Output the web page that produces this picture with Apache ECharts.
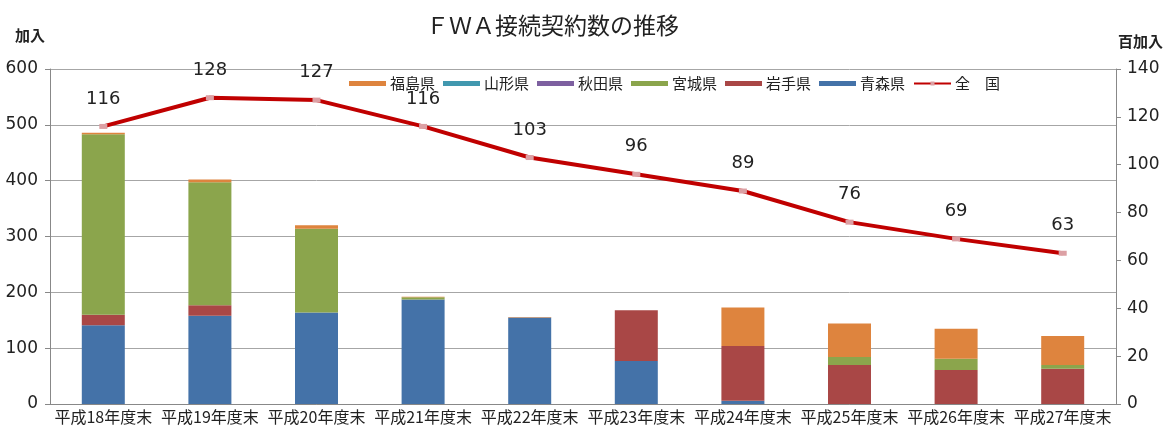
<!DOCTYPE html>
<html>
<head>
<meta charset="utf-8">
<script src="https://cdn.jsdelivr.net/npm/echarts@6/dist/echarts.min.js"></script>
<style>
  html, body { margin: 0; padding: 0; background: #fff; }
  #chart { width: 1168px; height: 432px; }
</style>
</head>
<body>
<div id="chart"></div>
<script>
// Data
const categories = [
  "平成18年度末", "平成19年度末", "平成20年度末", "平成21年度末", "平成22年度末",
  "平成23年度末", "平成24年度末", "平成25年度末", "平成26年度末", "平成27年度末",
];
const aomori = [141, 158, 164, 187, 155, 77, 6, 0, 0, 0];
const iwate = [19, 19, 0, 0, 0, 91, 98, 70, 61, 63];
const miyagi = [323, 220, 150, 4, 0, 0, 0, 14, 20, 7];
const akita = [0, 0, 0, 0, 0, 0, 0, 0, 0, 0];
const yamagata = [0, 0, 0, 0, 0, 0, 0, 0, 0, 0];
const fukushima = [3, 5, 6, 1, 1, 0, 69, 60, 54, 52];
const zenkoku = [116, 128, 127, 116, 103, 96, 89, 76, 69, 63];

const jpFont = "'Noto Sans CJK JP', sans-serif";
const numFont = "'DejaVu Sans', sans-serif";

const chart = echarts.init(document.getElementById("chart"));

const barSeries = [
  { name: "青森県", data: aomori, color: "#4472a8" },
  { name: "岩手県", data: iwate, color: "#a94746" },
  { name: "宮城県", data: miyagi, color: "#8ba54c" },
  { name: "秋田県", data: akita, color: "#7d60a0" },
  { name: "山形県", data: yamagata, color: "#4198af" },
  { name: "福島県", data: fukushima, color: "#de843e" },
].map((s) => ({
  name: s.name,
  type: "bar",
  stack: "pref",
  data: s.data,
  barWidth: 43,
  yAxisIndex: 0,
  itemStyle: { color: s.color },
}));

const option = {
  animation: false,
  title: {
    text: "ＦＷＡ接続契約数の推移",
    left: 421,
    top: 9,
    textStyle: { fontFamily: jpFont, fontSize: 23, fontWeight: "normal", color: "#222" },
  },
  legend: {
    left: 344,
    top: 71,
    itemWidth: 37,
    itemHeight: 5,
    itemGap: 8,
    textStyle: { fontFamily: jpFont, fontSize: 15, color: "#222", padding: [0, 0, 0, -1] },
    data: [
      { name: "福島県", icon: "rect" },
      { name: "山形県", icon: "rect" },
      { name: "秋田県", icon: "rect" },
      { name: "宮城県", icon: "rect" },
      { name: "岩手県", icon: "rect" },
      { name: "青森県", icon: "rect" },
      { name: "全　国" },
    ],
  },
  grid: { left: 50, right: 52, top: 69, bottom: 28 },
  xAxis: {
    type: "category",
    data: categories,
    axisLine: { lineStyle: { color: "#888" } },
    axisTick: { length: 5, lineStyle: { color: "#888" } },
    axisLabel: { fontFamily: jpFont, fontSize: 16, color: "#222", margin: 5, interval: 0 },
  },
  yAxis: [
    {
      type: "value",
      min: 0,
      max: 600,
      interval: 100,
      name: "加入",
      nameLocation: "end",
      nameGap: 26,
      nameTextStyle: {
        fontFamily: jpFont, fontSize: 15, fontWeight: "bold", color: "#222",
        align: "right", padding: [0, 5, 0, 0],
      },
      axisLine: { show: true, lineStyle: { color: "#888" } },
      axisTick: { show: true, length: 5, lineStyle: { color: "#888" } },
      axisLabel: { fontFamily: numFont, fontSize: 17, color: "#222", margin: 12 },
      splitLine: { lineStyle: { color: "#a6a6a6" } },
    },
    {
      type: "value",
      min: 0,
      max: 140,
      interval: 20,
      name: "百加入",
      nameLocation: "end",
      nameGap: 20,
      nameTextStyle: {
        fontFamily: jpFont, fontSize: 15, fontWeight: "bold", color: "#222",
        align: "left", padding: [0, 0, 0, 2],
      },
      axisLine: { show: true, lineStyle: { color: "#888" } },
      axisTick: { show: true, length: 5, lineStyle: { color: "#888" } },
      axisLabel: { fontFamily: numFont, fontSize: 17, color: "#222", margin: 11 },
      splitLine: { show: false },
    },
  ],
  series: [
    ...barSeries,
    {
      name: "全　国",
      type: "line",
      yAxisIndex: 1,
      data: zenkoku,
      symbol: "rect",
      symbolSize: [8, 5],
      lineStyle: { color: "#c00000", width: 4 },
      itemStyle: { color: "#dca0a4" },
      label: {
        show: true,
        position: "top",
        distance: 16,
        fontFamily: numFont,
        fontSize: 18,
        color: "#222",
      },
      z: 5,
    },
  ],
};

chart.setOption(option);
</script>
</body>
</html>
